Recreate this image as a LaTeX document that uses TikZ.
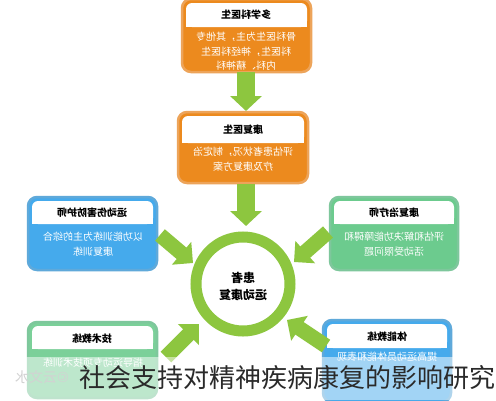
\documentclass[tikz,border=0pt]{standalone}
\usepackage{fontspec}
\usepackage{graphicx}
\newfontfamily\cjk{Noto Sans CJK SC}
\usetikzlibrary{arrows.meta}
\definecolor{orbody}{HTML}{EC8A1E}
\definecolor{orrim}{HTML}{EDA45A}
\definecolor{blbody}{HTML}{45AAEC}
\definecolor{blrim}{HTML}{5FA9DA}
\definecolor{grbody}{HTML}{6CCB8E}
\definecolor{grrim}{HTML}{7EC79C}
\definecolor{arrgreen}{HTML}{8DC63F}
\definecolor{captext}{HTML}{2A2A2A}
\newcommand{\mir}[1]{\reflectbox{#1}}
\begin{document}
\begin{tikzpicture}[x=1pt,y=-1pt,
  panel/.style={line width=2.5pt, rounded corners=9pt, inner sep=0pt},
  ttl/.style={font=\cjk\bfseries\fontsize{10}{12}\selectfont, text=black, inner sep=0pt},
  bdy/.style={font=\cjk\fontsize{10}{14.5}\selectfont, text=white, inner sep=0pt},
  garrow/.style={draw=arrgreen, line width=18pt, -{Triangle[length=15pt,width=31pt]}},
  darrow/.style={draw=arrgreen, line width=15pt, -{Triangle[length=15pt,width=29pt]}}]
\useasboundingbox (0,0) rectangle (496,400);
\fill[white] (0,0) rectangle (496,400);

% top box
\node[panel, draw=orrim, fill=orbody, minimum width=129pt, minimum height=73pt] (doc) at (246.5,35.5) {};
\fill[white, rounded corners=6pt] (186,3) rectangle (307,27);
\fill[white] (186,20) rectangle (307,27);
\node[ttl] (doct) at (246,15) {\mir{多学科医生}};
\node[bdy] (docb) at (246,52.5) {\mir{\begin{tabular}{@{}c@{}}骨科医生为主，其他专\\科医生，神经科医生\\内科、精神科\end{tabular}}};

% second box
\node[panel, draw=orrim, fill=orbody, minimum width=130pt, minimum height=71pt] (reh) at (243,147.5) {};
\fill[white, rounded corners=6pt] (182,116) rectangle (304,143);
\fill[white] (182,136) rectangle (304,143);
\node[ttl] (reht) at (243,130) {\mir{康复医生}};
\node[bdy] (rehb) at (243,160) {\mir{\begin{tabular}{@{}c@{}}评估患者状况，制定治\\疗及康复方案\end{tabular}}};

% left blue box
\node[panel, draw=blrim, fill=blbody, minimum width=129pt, minimum height=73pt] (ath) at (92.5,233.5) {};
\fill[white, rounded corners=6pt] (32,201) rectangle (153,224);
\fill[white] (32,217) rectangle (153,224);
\node[ttl] (atht) at (92,213) {\mir{运动伤害防护师}};
\node[bdy] (athb) at (93,245) {\mir{\begin{tabular}{@{}c@{}}以功能训练为主的综合\\康复训练\end{tabular}}};

% right green box
\node[panel, draw=grrim, fill=grbody, minimum width=128pt, minimum height=73pt] (thr) at (394,233.5) {};
\fill[white, rounded corners=6pt] (334,201) rectangle (454,224);
\fill[white] (334,217) rectangle (454,224);
\node[ttl] (thrt) at (394,213) {\mir{康复治疗师}};
\node[bdy] (thrb) at (394,245) {\mir{\begin{tabular}{@{}c@{}}评估和解决功能障碍和\\活动受限问题\end{tabular}}};

% bottom-left green box
\node[panel, draw=grrim, fill=grbody!90!white, minimum width=129pt, minimum height=76pt] (tec) at (92.5,360) {};
\fill[white, rounded corners=6pt] (32,326) rectangle (153,349);
\fill[white] (32,342) rectangle (153,349);
\node[ttl] (tect) at (92,339) {\mir{技术教练}};
\node[bdy] (tecb) at (93,363) {\mir{指导运动专项技术训练}};

% bottom-right blue box
\node[panel, draw=blrim, fill=blbody, minimum width=128pt, minimum height=82pt] (fit) at (387,361) {};
\fill[white, rounded corners=6pt] (327,324) rectangle (447,348);
\fill[white] (327,341) rectangle (447,348);
\node[ttl] (fitt) at (387,337) {\mir{体能教练}};
\node[bdy] (fitb) at (387,357) {\mir{提高运动员体能和表现}};

% centre circle
\node[circle, draw=arrgreen, line width=11pt, minimum size=94pt, inner sep=0pt] (pat) at (243,284) {};
\node[font=\cjk\bfseries\fontsize{12}{17}\selectfont, inner sep=0pt] (patt) at (243,288) {\mir{\begin{tabular}{@{}c@{}}患者\\运动康复\end{tabular}}};

% arrows
\coordinate (a1s) at (246,72);   \coordinate (a1e) at (246,111);
\coordinate (a2s) at (246,184);  \coordinate (a2e) at (246,226);
\coordinate (a3s) at (160,235);  \coordinate (a3e) at (193,263);
\coordinate (a4s) at (328,232);  \coordinate (a4e) at (294,262);
\coordinate (a5s) at (166,357);  \coordinate (a5e) at (199,324);
\coordinate (a6s) at (326,346);  \coordinate (a6e) at (287,320);
\draw[garrow] (a1s) -- (a1e);
\draw[garrow] (a2s) -- (a2e);
\draw[darrow] (a3s) -- (a3e);
\draw[darrow] (a4s) -- (a4e);
\draw[darrow] (a5s) -- (a5e);
\draw[darrow] (a6s) -- (a6e);

% caption band
\fill[white, opacity=0.5] (0,357) rectangle (496,400);
\node[font=\cjk\fontsize{14}{16}\selectfont, text=gray!35, inner sep=0pt] (wm) at (42,377) {\mir{©云文水}};
\node[font=\cjk\fontsize{26}{30}\selectfont, text=captext, inner sep=0pt, anchor=east] (cap) at (496,378) {社会支持对精神疾病康复的影响研究};
\end{tikzpicture}
\end{document}
